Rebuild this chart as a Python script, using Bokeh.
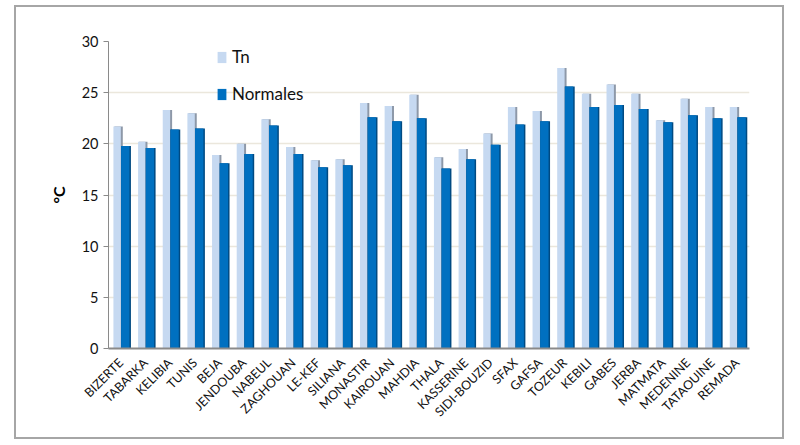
from bokeh.plotting import figure
from bokeh.models import FactorRange, Range1d, ColumnDataSource, Legend, LegendItem, FixedTicker
from bokeh.transform import dodge
from bokeh.embed import file_html
from bokeh.resources import INLINE
import math

stations = ["BIZERTE", "TABARKA", "KELIBIA", "TUNIS", "BEJA", "JENDOUBA", "NABEUL",
            "ZAGHOUAN", "LE-KEF", "SILIANA", "MONASTIR", "KAIROUAN", "MAHDIA", "THALA",
            "KASSERINE", "SIDI-BOUZID", "SFAX", "GAFSA", "TOZEUR", "KEBILI", "GABES",
            "JERBA", "MATMATA", "MEDENINE", "TATAOUINE", "REMADA"]
tn = [21.7, 20.2, 23.3, 23.0, 18.9, 20.0, 22.4, 19.7, 18.4, 18.5, 24.0, 23.7, 24.8,
      18.7, 19.5, 21.0, 23.6, 23.2, 27.4, 24.9, 25.8, 24.9, 22.3, 24.4, 23.6, 23.6]
normales = [19.8, 19.6, 21.4, 21.5, 18.1, 19.0, 21.8, 19.0, 17.7, 17.9, 22.6, 22.2, 22.5,
            17.6, 18.5, 19.9, 21.9, 22.2, 25.6, 23.6, 23.8, 23.4, 22.1, 22.8, 22.5, 22.6]
y_ticks = [0, 5, 10, 15, 20, 25, 30]

FONT = "Lato"
TN_COL = "#c6d9f1"
TN_SHADE = "#8d98a8"
N_COL = "#0070c0"
N_SHADE = "#004a82"

src = ColumnDataSource(dict(st=stations, tn=tn, n=normales))

p = figure(x_range=FactorRange(*stations, range_padding=0), y_range=Range1d(0, 30),
           width=770, height=434, output_backend="svg", toolbar_location=None,
           min_border_left=92, min_border_right=37, min_border_top=34, min_border_bottom=93)
p.x_range.range_padding = 0

# Tn bars: shade strip then face
p.vbar(x=dodge("st", -0.09, range=p.x_range), top="tn", width=0.34, source=src,
       fill_color=TN_SHADE, line_color=None)
r_tn = p.vbar(x=dodge("st", -0.15, range=p.x_range), top="tn", width=0.30, source=src,
              fill_color=TN_COL, line_color=None)
# Normales bars
p.vbar(x=dodge("st", 0.21, range=p.x_range), top="n", width=0.40, source=src,
       fill_color=N_SHADE, line_color=None)
r_n = p.vbar(x=dodge("st", 0.18, range=p.x_range), top="n", width=0.34, source=src,
             fill_color=N_COL, line_color=None)

legend = Legend(items=[LegendItem(label="Tn", renderers=[r_tn]),
                       LegendItem(label="Normales", renderers=[r_n])],
                location=(108, 244), orientation="vertical")
legend.background_fill_alpha = 0
legend.border_line_color = None
legend.padding = 0
legend.margin = 0
legend.spacing = 16
legend.glyph_width = 11
legend.glyph_height = 14
legend.label_standoff = 5
legend.label_text_font = FONT
legend.label_text_font_size = "17px"
legend.label_text_color = "#111111"
p.add_layout(legend)

p.yaxis.ticker = FixedTicker(ticks=y_ticks)
p.yaxis.axis_label = "°C"
p.yaxis.axis_label_text_font = FONT
p.yaxis.axis_label_text_font_style = "bold"
p.yaxis.axis_label_text_font_size = "16px"
p.yaxis.axis_label_text_color = "#000000"
p.yaxis.axis_label_standoff = 11
p.yaxis.major_label_text_font = FONT
p.yaxis.major_label_text_font_size = "14.5px"
p.yaxis.major_label_text_color = "#111111"
p.yaxis.axis_line_color = "#8a8a8a"
p.yaxis.major_tick_line_color = "#8a8a8a"
p.yaxis.major_tick_out = 5
p.yaxis.major_tick_in = 0
p.yaxis.minor_tick_line_color = None

p.xaxis.major_label_orientation = math.pi / 4
p.xaxis.major_label_text_font = FONT
p.xaxis.major_label_text_font_size = "12.5px"
p.xaxis.major_label_text_color = "#111111"
p.xaxis.axis_line_color = "#8a8a8a"
p.xaxis.axis_line_width = 2
p.xaxis.major_tick_line_color = None
p.xaxis.minor_tick_line_color = None
p.xaxis.major_label_standoff = 6

p.xgrid.grid_line_color = None
p.ygrid.grid_line_color = "#ebe7dc"
p.ygrid.grid_line_width = 1.5
p.outline_line_color = None
p.background_fill_color = "white"
p.border_fill_color = "white"
p.styles = {"border": "2px solid #a6a6a6", "box-sizing": "border-box",
            "margin-left": "14px", "margin-top": "5px"}

open("out.html", "w").write(file_html(p, INLINE))
